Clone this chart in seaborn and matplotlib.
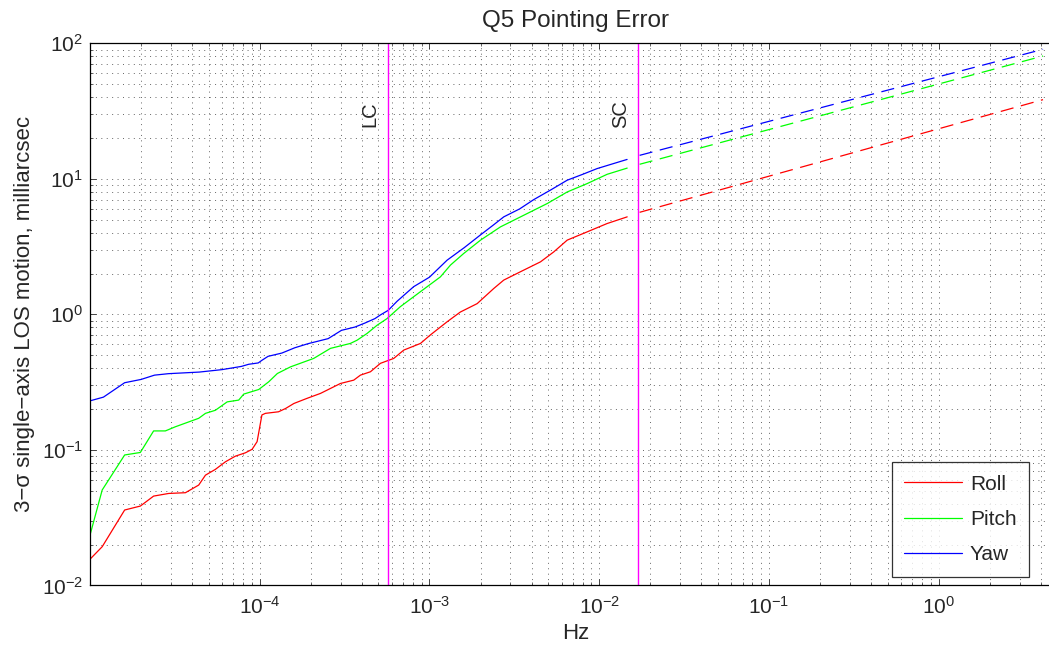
import numpy as np
import pandas as pd
import matplotlib
matplotlib.use("Agg")
import matplotlib.pyplot as plt
import matplotlib.ticker as mticker
import seaborn as sns

# values
roll_hz = [1.0e-5, 1.18e-5, 1.6e-5, 1.98e-5, 2.37e-5, 2.91e-5, 3.65e-5, 4.37e-5, 4.79e-5,
           5.48e-5, 6.28e-5, 7.19e-5, 8.24e-5, 9.02e-5, 9.65e-5, 1.03e-4, 1.08e-4, 1.29e-4,
           1.42e-4, 1.59e-4, 1.9e-4, 2.28e-4, 2.99e-4, 3.58e-4, 3.92e-4, 4.49e-4, 5.14e-4,
           6.16e-4, 7.06e-4, 8.85e-4, 1.01e-3, 1.27e-3, 1.52e-3, 1.91e-3, 2.39e-3, 2.74e-3,
           3.43e-3, 4.51e-3, 5.40e-3, 6.48e-3, 8.49e-3, 1.114e-2, 1.462e-2]
roll_mas = [0.0156, 0.0193, 0.036, 0.0385, 0.0456, 0.0477, 0.0483, 0.055, 0.0651,
            0.0718, 0.0817, 0.0899, 0.0952, 0.101, 0.115, 0.181, 0.186, 0.191,
            0.202, 0.22, 0.24, 0.261, 0.309, 0.327, 0.356, 0.377, 0.435,
            0.473, 0.545, 0.61, 0.703, 0.881, 1.04, 1.2, 1.55, 1.79,
            2.06, 2.44, 2.89, 3.53, 4.06, 4.68, 5.24]

pitch_hz = [1.0e-5, 1.18e-5, 1.6e-5, 1.98e-5, 2.37e-5, 2.78e-5, 3.18e-5, 4.37e-5, 4.79e-5,
            5.48e-5, 6.43e-5, 7.52e-5, 8.05e-5, 9.87e-5, 1.13e-4, 1.27e-4, 1.52e-4, 2.08e-4,
            2.61e-4, 3.42e-4, 3.75e-4, 4.29e-4, 4.92e-4, 5.62e-4, 6.74e-4, 8.85e-4, 1.16e-3,
            1.33e-3, 1.59e-3, 2.0e-3, 2.62e-3, 3.43e-3, 4.94e-3, 6.48e-3, 8.49e-3, 1.114e-2,
            1.462e-2]
pitch_mas = [0.0235, 0.0506, 0.0917, 0.0957, 0.138, 0.138, 0.148, 0.171, 0.186,
             0.196, 0.226, 0.233, 0.258, 0.279, 0.318, 0.366, 0.41, 0.473,
             0.561, 0.61, 0.645, 0.723, 0.832, 0.93, 1.14, 1.47, 1.89,
             2.31, 2.81, 3.53, 4.42, 5.23, 6.57, 8.0, 9.22, 10.8,
             12.0]

yaw_hz = [1.0e-5, 1.2e-5, 1.6e-5, 2.0e-5, 2.4e-5, 2.9e-5, 4.4e-5, 6.0e-5, 7.8e-5,
          8.6e-5, 9.8e-5, 1.03e-4, 1.12e-4, 1.35e-4, 1.61e-4, 1.93e-4, 2.53e-4, 3.03e-4,
          3.64e-4, 4.17e-4, 4.77e-4, 5.14e-4, 5.71e-4, 6.45e-4, 8.07e-4, 1.0e-3, 1.27e-3,
          1.6e-3, 2.0e-3, 2.4e-3, 2.74e-3, 3.4e-3, 4.12e-3, 5.2e-3, 6.48e-3, 8.0e-3,
          9.72e-3, 1.2e-2, 1.46e-2]
yaw_mas = [0.23, 0.245, 0.313, 0.331, 0.356, 0.365, 0.375, 0.391, 0.413,
           0.428, 0.438, 0.458, 0.49, 0.518, 0.567, 0.608, 0.662, 0.762,
           0.806, 0.863, 0.93, 0.99, 1.07, 1.25, 1.6, 1.88, 2.51,
           3.1, 3.86, 4.6, 5.24, 6.0, 7.03, 8.3, 9.77, 10.8,
           11.9, 12.9, 13.9]

# dashed extrapolation beyond the short cadence
extrap_hz = [0.0173, 4.12]
roll_extrap = [5.66, 38.4]
pitch_extrap = [12.8, 80.6]
yaw_extrap = [14.9, 90.3]

axis_names = ["Roll", "Pitch", "Yaw"]
axis_colors = ["#ff0000", "#00ff00", "#0000ff"]

lc_hz = 1.0 / (29.4 * 60)    # long cadence
sc_hz = 1.0 / 58.85          # short cadence

sns.set_style("ticks", rc={"xtick.direction": "in", "ytick.direction": "in",
                           "xtick.top": True, "ytick.right": True})
plt.rcParams["font.family"] = ["Liberation Sans", "DejaVu Sans"]
plt.rcParams["mathtext.fontset"] = "custom"
plt.rcParams["mathtext.rm"] = "Liberation Sans"
plt.rcParams["mathtext.it"] = "Liberation Sans"
plt.rcParams["mathtext.default"] = "regular"
plt.rcParams["lines.scale_dashes"] = False

solid = pd.concat([
    pd.DataFrame({"Hz": roll_hz, "mas": roll_mas, "axis": "Roll"}),
    pd.DataFrame({"Hz": pitch_hz, "mas": pitch_mas, "axis": "Pitch"}),
    pd.DataFrame({"Hz": yaw_hz, "mas": yaw_mas, "axis": "Yaw"}),
])

fig = plt.figure(figsize=(10.49, 6.47), dpi=100)
ax = fig.add_axes([90 / 1049, 1 - 585.4 / 647, 972 / 1049, 542.1 / 647])
ax.set(xscale="log", yscale="log")

sns.lineplot(data=solid, x="Hz", y="mas", hue="axis", hue_order=axis_names,
             palette=dict(zip(axis_names, axis_colors)), estimator=None, sort=False,
             linewidth=0.9, ax=ax)
for vals, col in zip([roll_extrap, pitch_extrap, yaw_extrap], axis_colors):
    sns.lineplot(x=extrap_hz, y=vals, color=col, linewidth=0.9, dashes=False,
                 estimator=None, sort=False, legend=False, ax=ax)
for line in ax.get_lines()[-3:]:
    line.set_dashes((9.5, 5.5))

for f, lab in [(lc_hz, "LC"), (sc_hz, "SC")]:
    ax.axvline(f, color="#ff00ff", linewidth=1.0)
    ax.annotate(lab, xy=(f, 29.9), xytext=(-6, 0), textcoords="offset points",
                rotation=90, ha="right", va="center", fontsize=14.5)

ax.set_xlim(1e-5, 5.33)
ax.set_ylim(1e-2, 1e2)
ax.xaxis.set_major_locator(mticker.FixedLocator([1e-4, 1e-3, 1e-2, 1e-1, 1e0]))
ax.xaxis.set_major_formatter(mticker.LogFormatterSciNotation())
ax.xaxis.set_minor_locator(mticker.LogLocator(base=10, subs=np.arange(2, 10), numticks=20))
ax.yaxis.set_minor_locator(mticker.LogLocator(base=10, subs=np.arange(2, 10), numticks=20))
ax.xaxis.set_minor_formatter(mticker.NullFormatter())
ax.yaxis.set_minor_formatter(mticker.NullFormatter())

ax.grid(True, which="both", color="0.3", linewidth=0.6, linestyle=(0, (0.7, 3.2)))
ax.tick_params(which="major", length=4.5, width=0.6, labelsize=15)
ax.tick_params(axis="x", which="major", pad=7.5)
ax.tick_params(axis="y", which="major", pad=5)
ax.tick_params(which="minor", length=2.5, width=0.5)
for sp in ax.spines.values():
    sp.set_linewidth(0.9)
    sp.set_color("black")

ax.set_title("Q5 Pointing Error", fontsize=17.5, pad=12)
ax.set_xlabel("Hz", fontsize=16, labelpad=4)
ax.set_ylabel("3\u2212\u03c3 single\u2212axis LOS motion, milliarcsec", fontsize=16, labelpad=5)

handles, labels = ax.get_legend_handles_labels()
leg = ax.legend(handles, labels, loc="lower right", bbox_to_anchor=(0.981, 0.1087),
                bbox_transform=fig.transFigure, borderaxespad=0, fancybox=False,
                frameon=True, edgecolor="black", fontsize=15, handlelength=2.75,
                handletextpad=0.4, labelspacing=0.78, borderpad=0.6)
leg.get_frame().set_linewidth(0.9)

fig.savefig("out.png", dpi=100)
